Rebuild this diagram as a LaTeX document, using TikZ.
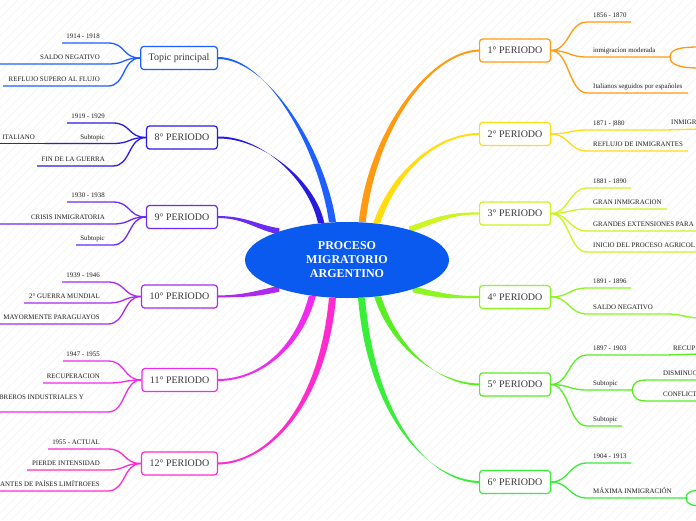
\documentclass[tikz,border=0pt]{standalone}
\usepackage{fontspec}
\setmainfont{Liberation Serif}
\usetikzlibrary{shapes.geometric,calc,backgrounds}

\definecolor{cTop}{HTML}{1F5FFF}
\definecolor{cEight}{HTML}{2A1BE0}
\definecolor{cNine}{HTML}{6A2BF5}
\definecolor{cTen}{HTML}{AA2BEE}
\definecolor{cEleven}{HTML}{EE2BEE}
\definecolor{cTwelve}{HTML}{FF2BCC}
\definecolor{cOne}{HTML}{FF9A11}
\definecolor{cTwo}{HTML}{FFDD11}
\definecolor{cThree}{HTML}{CCF522}
\definecolor{cFour}{HTML}{8CF522}
\definecolor{cFive}{HTML}{5AEE22}
\definecolor{cSix}{HTML}{38EE38}
\definecolor{cCenter}{HTML}{0A5AF0}

\tikzset{
  mainbox/.style={draw, line width=1.2pt, rounded corners=3pt, fill=white,
    minimum height=23pt, inner xsep=8pt, inner ysep=0pt,
    font=\fontsize{10}{12}\selectfont, text=black!78},
  subtxt/.style={inner sep=0pt, font=\fontsize{6.9}{8}\selectfont, text=black!88},
  subline/.style={line width=1.3pt},
  centre/.style={ellipse, fill=cCenter, minimum width=204pt, minimum height=76pt,
    inner sep=0pt, text=white, align=center,
    font=\bfseries\fontsize{12}{14}\selectfont},
  bghatch/.style={black!5, line width=0.5pt},
}

% tapered main branch: colour, start, c1, c2, end, start offset (x,y), end offset (x,y)
\newcommand\mytaper[9]{%
  \fill[#1] ($(#2)+(#6,#7)$) .. controls ($(#3)+(#6,#7)$) and ($(#4)+(#8,#9)$) .. ($(#5)+(#8,#9)$)
    -- ($(#5)-(#8,#9)$) .. controls ($(#4)-(#8,#9)$) and ($(#3)-(#6,#7)$) .. ($(#2)-(#6,#7)$) -- cycle;}

% left sub-branch: name, colour, parent, line y, line left x, bend x, text
\newcommand\lsub[7]{%
  \coordinate (#1-r) at (#6,#4);
  \coordinate (#1-l) at (#5,#4);
  \node[subtxt,anchor=base east] (#1) at ({#6-8},{#4-4.5}) {#7};
  \draw[subline,#2] (#3.west) .. controls +(-18,0) and +(18,0) .. (#1-r) -- (#1-l);}

% right sub-branch: name, colour, parent, line y, line right x, text
\newcommand\rsub[6]{%
  \coordinate (#1-l) at (587,#4);
  \coordinate (#1-r) at (#5,#4);
  \node[subtxt,anchor=base west] (#1) at (593,{#4-4.5}) {#6};
  \draw[subline,#2] (#3.east) .. controls +(18,0) and +(-18,0) .. (#1-l) -- (#1-r);}

\begin{document}
\begin{tikzpicture}[x=1pt,y=-1pt]
\useasboundingbox (0,0) rectangle (696,520);
\begin{pgfonlayer}{background}
  \fill[white] (0,0) rectangle (696,520);
  \begin{scope}
    \clip (0,0) rectangle (696,520);
    \foreach \i in {-520,-511,...,700} \draw[bghatch] (\i,520) -- ++(520,-520);
  \end{scope}
\end{pgfonlayer}

% centre
\node[centre] (c) at (347,260) {PROCESO\\MIGRATORIO\\ARGENTINO};

% left boxes
\node[mainbox,draw=cTop,anchor=east] (tp) at (218,58) {Topic principal};
\node[mainbox,draw=cEight,anchor=east] (p8) at (218,137.5) {8° PERIODO};
\node[mainbox,draw=cNine,anchor=east] (p9) at (218,217) {9° PERIODO};
\node[mainbox,draw=cTen,anchor=east] (p10) at (218,296.5) {10° PERIODO};
\node[mainbox,draw=cEleven,anchor=east] (p11) at (218,380) {11° PERIODO};
\node[mainbox,draw=cTwelve,anchor=east] (p12) at (218,463.5) {12° PERIODO};

% right boxes
\node[mainbox,draw=cOne,anchor=west] (p1) at (479,50.5) {1° PERIODO};
\node[mainbox,draw=cTwo,anchor=west] (p2) at (479,134) {2° PERIODO};
\node[mainbox,draw=cThree,anchor=west] (p3) at (479,213.5) {3° PERIODO};
\node[mainbox,draw=cFour,anchor=west] (p4) at (479,297) {4° PERIODO};
\node[mainbox,draw=cFive,anchor=west] (p5) at (479,384.5) {5° PERIODO};
\node[mainbox,draw=cSix,anchor=west] (p6) at (479,482) {6° PERIODO};

% main branches
\begin{pgfonlayer}{background}
  \mytaper{cTop}{c.111}{322,150}{268,58}{tp.east}{3.5}{0}{0}{1}
  \mytaper{cEight}{c.125}{312,180}{262,137}{p8.east}{3.2}{0}{0}{1}
  \mytaper{cNine}{c.157}{258,228}{245,217}{p9.east}{0}{3}{0}{1}
  \mytaper{cTen}{c.203}{255,294}{245,296}{p10.east}{0}{3}{0}{1}
  \mytaper{cEleven}{c.226}{298,350}{258,380}{p11.east}{3.5}{0}{0}{1}
  \mytaper{cTwelve}{c.249}{322,410}{265,463}{p12.east}{3.5}{0}{0}{1}
  \mytaper{cOne}{c.68}{372,130}{430,52}{p1.west}{3.5}{0}{0}{1}
  \mytaper{cTwo}{c.51}{395,170}{438,134}{p2.west}{3.5}{0}{0}{1}
  \mytaper{cThree}{c.26}{440,218}{455,213}{p3.west}{0}{3}{0}{1}
  \mytaper{cFour}{c.336}{445,297}{455,297}{p4.west}{0}{3}{0}{1}
  \mytaper{cFive}{c.310}{395,350}{440,384}{p5.west}{3.5}{0}{0}{1}
  \mytaper{cSix}{c.291}{372,420}{430,481}{p6.west}{3.5}{0}{0}{1}
\end{pgfonlayer}

% left sub-branches
\lsub{tpA}{cTop}{tp}{43}{62}{108}{1914 - 1918}
\lsub{tpB}{cTop}{tp}{64}{-2}{108}{SALDO NEGATIVO}
\lsub{tpC}{cTop}{tp}{86}{3}{108}{REFLUJO SUPERO AL FLUJO}

\lsub{p8A}{cEight}{p8}{123}{67}{113}{1919 - 1929}
\lsub{p8B}{cEight}{p8}{143.5}{45}{113}{Subtopic}
\lsub{p8C}{cEight}{p8}{166}{37}{113}{FIN DE LA GUERRA}
\coordinate (p8Ba-l) at (-2,143.5);
\node[subtxt,anchor=base east] (p8Ba) at (35,139) {ITALIANO};
\draw[subline,cEight] (p8B-l) -- (p8Ba-l);

\lsub{p9A}{cNine}{p9}{202}{67}{113}{1930 - 1938}
\lsub{p9B}{cNine}{p9}{224}{-2}{113}{CRISIS INMIGRATORIA}
\lsub{p9C}{cNine}{p9}{245}{76}{113}{Subtopic}

\lsub{p10A}{cTen}{p10}{282}{62}{108}{1939 - 1946}
\lsub{p10B}{cTen}{p10}{303}{24}{108}{2° GUERRA MUNDIAL}
\lsub{p10C}{cTen}{p10}{324}{-2}{108}{MAYORMENTE PARAGUAYOS}

\lsub{p11A}{cEleven}{p11}{361}{63}{108}{1947 - 1955}
\lsub{p11B}{cEleven}{p11}{383}{43}{108}{RECUPERACION}
\coordinate (p11C-r) at (108,412);
\coordinate (p11C-l) at (-2,412);
\node[subtxt,anchor=base east] (p11C) at (84,399.5) {BREROS INDUSTRIALES Y};
\draw[subline,cEleven] (p11.west) .. controls +(-18,0) and +(18,0) .. (p11C-r) -- (p11C-l);

\lsub{p12A}{cTwelve}{p12}{449}{48}{108}{1955 - ACTUAL}
\lsub{p12B}{cTwelve}{p12}{470}{27}{108}{PIERDE INTENSIDAD}
\lsub{p12C}{cTwelve}{p12}{491}{-2}{108}{ANTES DE PAÍSES LIMÍTROFES}

% right sub-branches
\rsub{p1A}{cOne}{p1}{22}{631}{1856 - 1870}
\rsub{p1B}{cOne}{p1}{57}{670}{inmigracion moderada}
\rsub{p1C}{cOne}{p1}{93}{688}{Italianos seguidos por españoles}
\coordinate (p1Ba) at (700,47);
\coordinate (p1Bb) at (700,68);
\draw[subline,cOne] (p1B-r) .. controls +(0,-8) and +(-20,0) .. (p1Ba);
\draw[subline,cOne] (p1B-r) .. controls +(0,8) and +(-20,0) .. (p1Bb);

\rsub{p2A}{cTwo}{p2}{130}{665}{1871 - |880}
\rsub{p2B}{cTwo}{p2}{151}{688}{REFLUJO DE INMIGRANTES}
\coordinate (p2Aa-r) at (700,129);
\node[subtxt,anchor=base west] (p2Aa) at (671,124.5) {INMIGR};
\draw[subline,cTwo] (p2A-r) -- (p2Aa-r);

\rsub{p3A}{cThree}{p3}{188}{631}{1881 - 1890}
\rsub{p3B}{cThree}{p3}{209}{667}{GRAN INMIGRACION}
\rsub{p3C}{cThree}{p3}{231}{700}{GRANDES EXTENSIONES PARA}
\rsub{p3D}{cThree}{p3}{252}{700}{INICIO DEL PROCESO AGRICOL}

\rsub{p4A}{cFour}{p4}{288}{631}{1891 - 1896}
\rsub{p4B}{cFour}{p4}{314}{668}{SALDO NEGATIVO}
\coordinate (p4Ba) at (700,318);
\draw[subline,cFour] (p4B-r) .. controls +(12,0) and +(-12,0) .. (p4Ba);

\rsub{p5A}{cFive}{p5}{355}{665}{1897 - 1903}
\coordinate (p5Aa-r) at (700,354);
\node[subtxt,anchor=base west] (p5Aa) at (673,350.5) {RECUP};
\draw[subline,cFive] (p5A-r) -- (p5Aa-r);
\rsub{p5B}{cFive}{p5}{390}{632}{Subtopic}
\coordinate (p5Ba-m) at (650,380);
\coordinate (p5Ba-r) at (700,380);
\coordinate (p5Bb-m) at (650,401);
\coordinate (p5Bb-r) at (700,401);
\node[subtxt,anchor=base west] (p5Ba) at (663,375.5) {DISMINUC};
\node[subtxt,anchor=base west] (p5Bb) at (663,396.5) {CONFLICT};
\draw[subline,cFive] (p5B-r) .. controls +(2,-9) and +(-12,0) .. (p5Ba-m) -- (p5Ba-r);
\draw[subline,cFive] (p5B-r) .. controls +(2,10) and +(-12,0) .. (p5Bb-m) -- (p5Bb-r);
\rsub{p5C}{cFive}{p5}{426}{622}{Subtopic}

\rsub{p6A}{cSix}{p6}{463}{631}{1904 - 1913}
\rsub{p6B}{cSix}{p6}{498}{686}{MÁXIMA INMIGRACIÓN}
\coordinate (p6Ba) at (702,490);
\coordinate (p6Bb) at (702,506);
\draw[subline,cSix] (p6B-r) .. controls +(0,-6) and +(-10,0) .. (p6Ba);
\draw[subline,cSix] (p6B-r) .. controls +(0,6) and +(-10,0) .. (p6Bb);
\end{tikzpicture}
\end{document}
